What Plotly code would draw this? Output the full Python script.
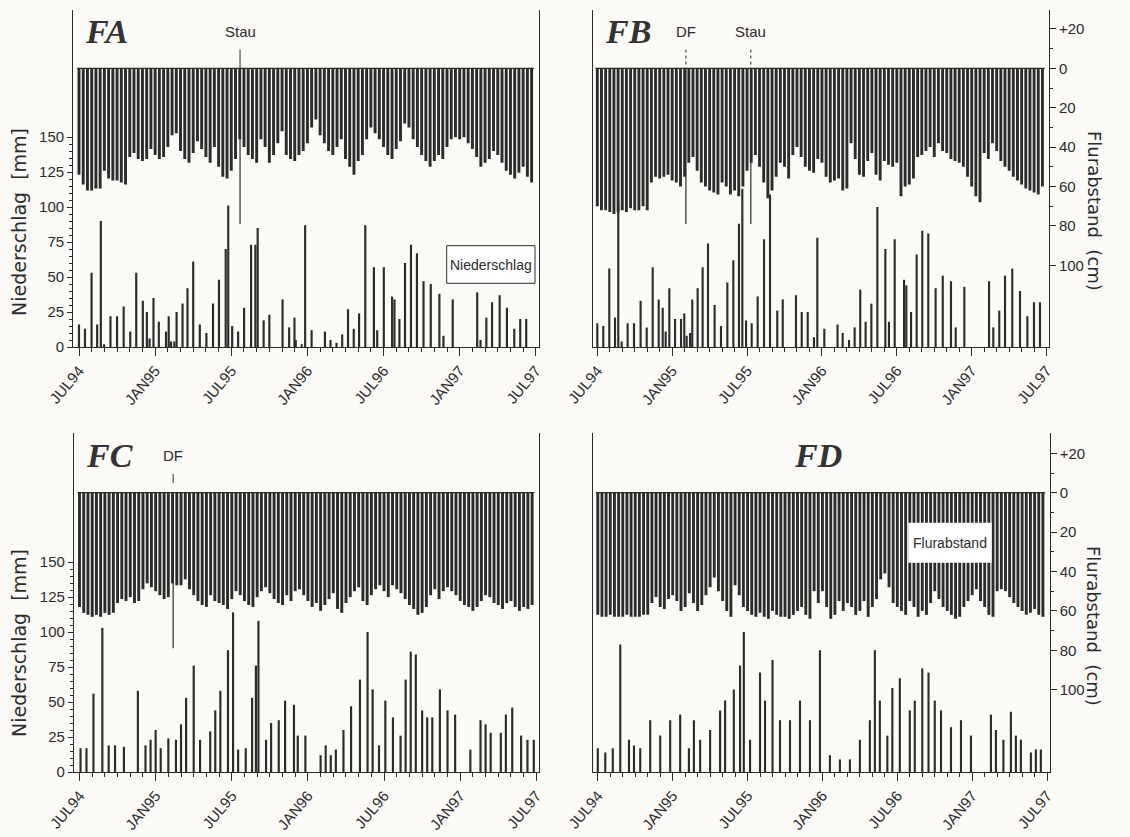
import plotly.graph_objects as go

W, H = 1130, 837

tick_months = [0, 6, 12, 18, 24, 30, 36]
tick_labels = ["JUL94", "JAN95", "JUL95", "JAN96", "JUL96", "JAN97", "JUL97"]
cm_ticks = [-20, 0, 20, 40, 60, 80, 100]
cm_labels = ["+20", "0", "20", "40", "60", "80", "100"]
mm_ticks = [0, 25, 50, 75, 100, 125, 150]

# Flurabstand (cm below ground), three readings per month, Jul 1994 - Jun 1997
fa_flur = [54, 59, 62, 62, 61, 61, 52, 56, 57, 57, 58, 59, 45, 43, 46, 47, 46, 41,
           44, 46, 45, 40, 34, 33, 42, 46, 48, 43, 37, 41, 45, 48, 40, 50, 55, 56,
           52, 46, 36, 40, 44, 46, 48, 36, 40, 48, 44, 38, 32, 44, 46, 47, 44, 42,
           38, 30, 26, 34, 38, 42, 44, 40, 36, 46, 50, 54, 47, 44, 36, 30, 33, 36,
           40, 44, 46, 41, 37, 28, 30, 36, 40, 44, 47, 50, 47, 44, 46, 40, 36, 35,
           36, 35, 38, 41, 45, 50, 48, 46, 42, 44, 48, 52, 54, 56, 53, 50, 55, 58]
fb_flur = [70, 72, 72, 73, 74, 73, 72, 73, 71, 72, 72, 70, 72, 58, 55, 56, 55, 54,
           57, 58, 60, 55, 48, 45, 52, 58, 60, 62, 63, 64, 58, 60, 64, 62, 65, 60,
           52, 48, 44, 50, 58, 66, 62, 55, 48, 50, 56, 44, 40, 45, 50, 52, 53, 46,
           48, 55, 58, 57, 56, 62, 61, 38, 46, 54, 55, 47, 43, 54, 57, 47, 49, 50,
           48, 65, 60, 59, 56, 45, 44, 42, 40, 45, 38, 42, 43, 46, 47, 48, 50, 55,
           60, 65, 68, 43, 46, 38, 42, 47, 50, 52, 55, 57, 59, 61, 62, 63, 64, 60]
fc_flur = [58, 61, 62, 63, 62, 63, 61, 62, 61, 56, 54, 55, 53, 56, 55, 49, 46, 48,
           50, 52, 54, 53, 46, 47, 47, 44, 49, 52, 55, 57, 58, 52, 55, 56, 57, 59,
           54, 50, 52, 55, 57, 58, 53, 50, 48, 51, 54, 56, 57, 52, 55, 50, 49, 52,
           55, 58, 56, 60, 57, 54, 51, 59, 61, 56, 53, 50, 48, 55, 57, 52, 49, 47,
           50, 53, 47, 49, 51, 54, 57, 59, 62, 61, 58, 52, 49, 54, 50, 48, 50, 52,
           55, 57, 58, 60, 58, 55, 52, 53, 56, 57, 59, 56, 55, 58, 60, 58, 59, 57]
fd_flur = [62, 63, 63, 62, 63, 63, 63, 62, 63, 63, 63, 62, 62, 56, 53, 58, 59, 54,
           52, 55, 60, 58, 51, 56, 60, 57, 52, 48, 43, 50, 55, 60, 63, 47, 52, 58,
           60, 62, 63, 61, 63, 64, 60, 62, 63, 63, 64, 62, 60, 58, 62, 64, 50, 56,
           50, 58, 64, 62, 55, 60, 56, 58, 62, 60, 55, 63, 58, 54, 44, 41, 48, 56,
           58, 60, 62, 55, 58, 63, 60, 62, 56, 50, 54, 58, 60, 62, 64, 63, 58, 55,
           52, 49, 55, 58, 62, 63, 50, 49, 50, 53, 56, 58, 60, 62, 61, 59, 62, 63]

# Niederschlag (mm): time in months after 1 Jul 1994, amount
fa_rain_month = [0.0, 0.47, 0.99, 1.43, 1.72, 1.98, 2.48, 3.0, 3.52, 4.04, 4.51, 5.03,
                 5.35, 5.56, 5.87, 6.29, 6.86, 7.07, 7.25, 7.51, 7.69, 8.16, 8.55, 9.0,
                 9.52, 10.04, 10.56, 11.03, 11.56, 11.76, 12.07, 12.54, 13.01, 13.56,
                 13.9, 14.08, 14.55, 15.0, 16.04, 16.56, 16.98, 17.08, 17.55, 17.82,
                 18.33, 19.38, 19.82, 20.29, 20.74, 21.2, 21.65, 22.07, 22.56, 23.24,
                 23.5, 24.02, 24.67, 24.86, 25.25, 25.69, 26.16, 26.63, 27.15, 27.72,
                 28.4, 28.72, 29.45, 31.38, 31.64, 32.1, 32.55, 33.15, 33.72, 34.3,
                 34.77, 35.24]
fa_rain_mm = [16, 13, 53, 16, 90, 2, 22, 22, 29, 11, 53, 33, 25, 6, 35, 18, 11, 22, 4, 4,
              25, 31, 42, 61, 16, 10, 31, 48, 70, 101, 15, 11, 28, 73, 73, 85, 19, 23, 34,
              14, 21, 5, 2, 87, 12, 11, 5, 3, 9, 27, 13, 24, 87, 57, 12, 57, 36, 34, 20,
              60, 73, 67, 47, 45, 38, 8, 34, 39, 5, 21, 32, 37, 28, 13, 20, 20]
fb_rain_month = [0.0, 0.48, 0.96, 1.42, 1.68, 1.95, 2.43, 2.94, 3.47, 3.96, 4.44, 4.92,
                 5.24, 5.48, 5.77, 6.23, 6.71, 6.97, 7.16, 7.43, 7.61, 8.04, 8.44, 8.87,
                 9.4, 9.91, 10.42, 10.9, 11.35, 11.62, 11.92, 12.37, 12.85, 13.36, 13.84,
                 14.42, 14.86, 15.92, 16.38, 16.86, 17.36, 17.63, 18.19, 19.25, 19.66,
                 20.17, 20.62, 21.07, 21.5, 21.96, 22.44, 23.08, 23.37, 23.83, 24.58,
                 24.76, 25.14, 25.59, 26.04, 26.52, 27.11, 27.68, 28.34, 28.72, 29.41,
                 31.39, 31.73, 32.21, 32.67, 33.25, 33.87, 34.46, 34.99, 35.47]
fb_rain_mm = [17, 15, 56, 21, 103, 4, 17, 17, 33, 14, 57, 34, 28, 11, 42, 20, 20, 24, 8,
              10, 34, 42, 57, 74, 30, 15, 46, 62, 88, 113, 19, 17, 36, 77, 109, 26, 34,
              37, 25, 25, 7, 78, 13, 16, 10, 5, 14, 41, 18, 31, 100, 70, 18, 77, 48, 44,
              25, 66, 83, 81, 42, 51, 47, 14, 43, 47, 14, 26, 51, 56, 40, 22, 32, 32]
fc_rain_month = [0.08, 0.55, 1.1, 1.8, 2.3, 2.8, 3.5, 4.6, 5.2, 5.6, 6.0, 6.4, 7.0, 7.6,
                 8.0, 8.4, 9.0, 9.5, 10.3, 10.7, 11.1, 11.7, 12.1, 12.5, 13.1, 13.6, 13.9,
                 14.1, 14.7, 15.1, 15.7, 16.2, 16.9, 17.2, 17.8, 19.0, 19.4, 19.8, 20.2,
                 20.8, 21.4, 22.1, 22.7, 23.1, 23.6, 24.1, 24.7, 25.3, 25.7, 26.1, 26.5,
                 27.0, 27.4, 27.8, 28.4, 29.0, 29.6, 30.8, 31.6, 32.0, 32.4, 33.2, 33.6,
                 34.1, 34.8, 35.3, 35.8]
fc_rain_mm = [17, 17, 56, 103, 19, 19, 18, 58, 19, 23, 30, 17, 24, 23, 34, 53, 76, 23, 29,
              44, 58, 87, 114, 16, 17, 53, 76, 108, 23, 35, 37, 51, 48, 26, 26, 12, 19,
              12, 16, 30, 47, 66, 100, 59, 19, 51, 39, 26, 66, 86, 84, 44, 39, 39, 59,
              44, 41, 16, 37, 34, 28, 28, 41, 46, 26, 23, 23]
fd_rain_month = [0.0, 0.6, 1.2, 1.8, 2.5, 2.9, 3.4, 4.2, 5.0, 5.8, 6.6, 7.3, 7.7, 8.2, 9.0,
                 9.8, 10.2, 10.9, 11.4, 11.7, 12.2, 13.0, 13.4, 14.0, 14.6, 15.4, 16.2,
                 17.0, 17.8, 18.6, 19.4, 20.2, 21.0, 21.8, 22.2, 22.6, 23.2, 23.6, 24.2,
                 25.0, 25.4, 26.0, 26.5, 27.0, 27.5, 28.3, 29.1, 29.9, 31.5, 31.9, 32.5,
                 33.1, 33.5, 33.9, 34.7, 35.1, 35.5]
fd_rain_mm = [17, 14, 17, 91, 23, 19, 17, 37, 26, 37, 41, 17, 37, 23, 30, 44, 51, 59, 76,
              100, 23, 71, 51, 80, 37, 37, 51, 37, 87, 12, 9, 9, 23, 37, 87, 51, 26, 60,
              67, 44, 51, 74, 71, 51, 44, 32, 37, 26, 41, 30, 23, 43, 26, 23, 14, 16, 16]

flur_month = [i / 3 for i in range(len(fa_flur))]

panels = [
    dict(name="FA", flur=fa_flur, rm=fa_rain_month, rv=fa_rain_mm,
         xpx=(73.3, 538.5), ypx=(10, 347), zero=68.3, x0=79.0, ppm=12.69, left=True),
    dict(name="FB", flur=fb_flur, rm=fb_rain_month, rv=fb_rain_mm,
         xpx=(592.7, 1048.8), ypx=(10, 347), zero=68.3, x0=597.3, ppm=12.48, left=False),
    dict(name="FC", flur=fc_flur, rm=fc_rain_month, rv=fc_rain_mm,
         xpx=(74.0, 539.0), ypx=(433, 772), zero=492.7, x0=79.5, ppm=12.69, left=True),
    dict(name="FD", flur=fd_flur, rm=fd_rain_month, rv=fd_rain_mm,
         xpx=(593.3, 1049.5), ypx=(433, 772), zero=492.7, x0=597.8, ppm=12.48, left=False),
]

INK = "#2b2b2b"
FONT = "Liberation Sans"
TFONT = "DejaVu Sans"
fig = go.Figure()
layout = {}
shapes = []
annotations = []


def ann(**kw):
    kw.setdefault("showarrow", False)
    kw.setdefault("xanchor", "center")
    kw.setdefault("yanchor", "middle")
    annotations.append(kw)


for i, p in enumerate(panels):
    n = i + 1
    xa = "x" if n == 1 else f"x{n}"
    ya_r = "y" if n == 1 else f"y{2 * n - 1}"
    ya_f = f"y{2 * n}"
    xdom = [p["xpx"][0] / W, p["xpx"][1] / W]
    ydom = [1 - p["ypx"][1] / H, 1 - p["ypx"][0] / H]
    xr = [(p["xpx"][0] - p["x0"]) / p["ppm"], (p["xpx"][1] - p["x0"]) / p["ppm"]]
    mm_top = (p["ypx"][1] - p["ypx"][0]) / 1.4
    cm_top = -(p["zero"] - p["ypx"][0]) / 1.97
    cm_bot = (p["ypx"][1] - p["zero"]) / 1.97

    fig.add_trace(go.Bar(x=p["rm"], y=p["rv"], width=0.17, marker_color=INK,
                         marker_line_width=0, xaxis=xa, yaxis=ya_r, showlegend=False))
    fig.add_trace(go.Bar(x=flur_month, y=p["flur"], base=0, width=0.23, marker_color=INK,
                         marker_line_width=0, xaxis=xa, yaxis=ya_f, showlegend=False))

    xkey = "xaxis" if n == 1 else f"xaxis{n}"
    layout[xkey] = dict(
        domain=xdom, range=xr, anchor=ya_r, automargin=False, tickmode="array",
        tickvals=tick_months, ticktext=tick_labels, ticks="outside", ticklen=8,
        tickwidth=1.2, tickcolor=INK, showline=True, linecolor=INK, linewidth=1.3,
        tickangle=-50, tickfont=dict(family=FONT, size=15, color=INK), showgrid=False,
        zeroline=False,
        minor=dict(tickmode="array", tickvals=[m for m in range(37) if m % 6],
                   ticks="outside", ticklen=4, tickcolor=INK, tickwidth=1, showgrid=False))

    rkey = "yaxis" if n == 1 else f"yaxis{2 * n - 1}"
    fkey = f"yaxis{2 * n}"
    if p["left"]:
        layout[rkey] = dict(
            domain=ydom, range=[0, mm_top], anchor=xa, side="left", automargin=False,
            showline=True, linecolor=INK, linewidth=1.3, tickmode="array",
            tickvals=mm_ticks, ticks="outside", ticklen=5, tickcolor=INK, tickwidth=1.2,
            tickfont=dict(family=FONT, size=15, color=INK), showgrid=False, zeroline=False,
            minor=dict(tickmode="array",
                       tickvals=[v for v in range(5, 150, 5) if v % 25],
                       ticks="outside", ticklen=3, tickcolor=INK, tickwidth=1))
        layout[fkey] = dict(
            overlaying=ya_r, anchor=xa, side="right", range=[cm_bot, cm_top],
            automargin=False, showline=True, linecolor=INK, linewidth=1.3, ticks="",
            showticklabels=False, showgrid=False, zeroline=False)
    else:
        layout[rkey] = dict(
            domain=ydom, range=[0, mm_top], anchor=xa, side="left", automargin=False,
            showline=True, linecolor=INK, linewidth=1.3, ticks="", showticklabels=False,
            showgrid=False, zeroline=False)
        layout[fkey] = dict(
            overlaying=ya_r, anchor=xa, side="right", range=[cm_bot, cm_top],
            automargin=False, showline=True, linecolor=INK, linewidth=1.3,
            tickmode="array", tickvals=cm_ticks, ticktext=cm_labels, ticks="outside",
            ticklen=6, tickcolor=INK, tickwidth=1.2,
            tickfont=dict(family=FONT, size=15, color=INK), showgrid=False,
            zeroline=False,
            minor=dict(tickmode="array", tickvals=[-10, 10, 30, 50, 70],
                       ticks="outside", ticklen=3, tickcolor=INK, tickwidth=1))

    # zero line of Flurabstand
    shapes.append(dict(type="line", xref=xa, yref=ya_f, x0=-0.15, x1=35.85, y0=0, y1=0,
                       line=dict(color=INK, width=1.3)))

    # panel label
    if p["name"] == "FD":
        lx, xanc = 818 / W, "center"
    else:
        lx, xanc = (p["xpx"][0] + 10) / W, "left"
    ann(text=f"<b><i>{p['name']}</i></b>", xref="paper", yref="paper", x=lx,
        y=1 - (p["ypx"][0] + 22) / H, xanchor=xanc,
        font=dict(family="Liberation Serif", size=34, color="#333"))

# markers: Stau / DF
events = [
    (1, "Stau", 12.69, "solid"),
    (2, "DF", 7.1, "dot"),
    (2, "Stau", 12.3, "dot"),
    (3, "DF", 7.38, "dash"),
]
for n, label, m, dash in events:
    p = panels[n - 1]
    xa = "x" if n == 1 else f"x{n}"
    ya_f = f"y{2 * n}"
    shapes.append(dict(type="line", xref=xa, yref=ya_f, x0=m, x1=m, y0=-9.5, y1=0,
                       line=dict(color=INK, width=1, dash=dash)))
    shapes.append(dict(type="line", xref=xa, yref=ya_f, x0=m, x1=m, y0=0, y1=79,
                       line=dict(color=INK, width=1.2)))
    ann(text=label, xref=xa, yref="paper", x=m, y=1 - (p["ypx"][0] + 22) / H,
        font=dict(family=FONT, size=15, color=INK))

# boxes
shapes.append(dict(type="rect", xref="paper", yref="paper", x0=446.7 / W, x1=535 / W,
                   y0=1 - 283.3 / H, y1=1 - 245.7 / H, fillcolor="white",
                   line=dict(color=INK, width=1), layer="above"))
ann(text="Niederschlag", xref="paper", yref="paper", x=490.8 / W, y=1 - 264.5 / H,
    font=dict(family=FONT, size=14, color=INK))
shapes.append(dict(type="rect", xref="paper", yref="paper", x0=908.3 / W, x1=991.7 / W,
                   y0=1 - 562.7 / H, y1=1 - 522.7 / H, fillcolor="white",
                   line=dict(width=0), layer="above"))
ann(text="Flurabstand", xref="paper", yref="paper", x=950 / W, y=1 - 542.7 / H,
    font=dict(family=FONT, size=14, color=INK))

# axis titles
for yc in (222, 643):
    ann(text="Niederschlag  [mm]", xref="paper", yref="paper", x=19 / W, y=1 - yc / H,
        textangle=-90, font=dict(family=TFONT, size=19, color=INK))
for yc in (211, 626):
    ann(text="Flurabstand  (cm)", xref="paper", yref="paper", x=1094 / W, y=1 - yc / H,
        textangle=90, font=dict(family=TFONT, size=18, color=INK))

fig.update_layout(width=W, height=H, margin=dict(l=0, r=0, t=0, b=0),
                  paper_bgcolor="#fbfaf6", plot_bgcolor="rgba(0,0,0,0)",
                  barmode="overlay", shapes=shapes, annotations=annotations, **layout)

fig.write_html("out.html", config={"displayModeBar": False},
               post_script="document.body.style.margin='0px';")
